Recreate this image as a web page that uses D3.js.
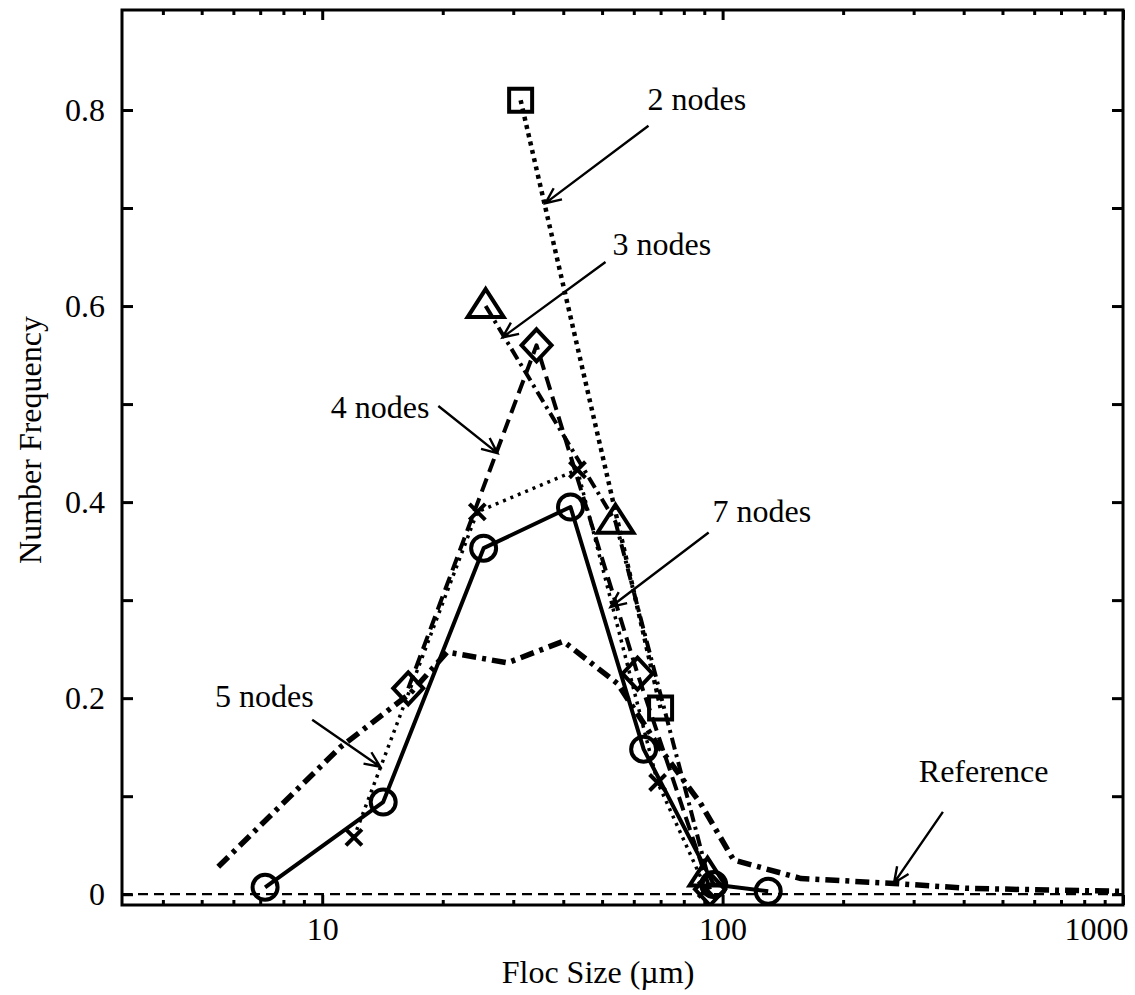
<!DOCTYPE html>
<html>
<head>
<meta charset="utf-8">
<script src="https://cdn.jsdelivr.net/npm/d3@7"></script>
<style>
  body { margin: 0; background: #fff; }
  text { font-family: "Liberation Serif", "Times New Roman", serif; fill: #000; }
</style>
</head>
<body>
<svg id="chart" width="1135" height="995"></svg>
<script>
// Floc size (µm) and number frequency for each quadrature resolution
const sizes2 = [31.3, 70];
const freq2  = [0.81, 0.19];

const sizes3 = [25.6, 54, 91.7];
const freq3  = [0.60, 0.38, 0.02];

const sizes4 = [16.4, 34.3, 61.3, 93];
const freq4  = [0.21, 0.56, 0.225, 0.005];

const sizes5 = [12, 24.4, 43.4, 68.8, 91];
const freq5  = [0.058, 0.39, 0.433, 0.114, 0.005];

const sizes7 = [7.2, 14.2, 25.3, 41.7, 63.5, 95, 130];
const freq7  = [0.007, 0.094, 0.353, 0.395, 0.148, 0.01, 0.003];

// Measured reference distribution
const sizesRef = [5.5, 11.1, 16.6, 20.5, 29, 40, 54.6, 70, 88, 106.5, 157, 268, 410, 700, 1000];
const freqRef  = [0.028, 0.15, 0.205, 0.247, 0.236, 0.258, 0.215, 0.148, 0.093, 0.035, 0.016, 0.011, 0.006, 0.004, 0.003];

// Axis ticks
const xMajorTicks = [10, 100, 1000];
const yMajorTicks = [0, 0.2, 0.4, 0.6, 0.8];
const yMinorTicks = [0.1, 0.3, 0.5, 0.7];

// Callouts: label, label anchor (size, freq), arrow tail, arrow head
const calloutText  = ["2 nodes", "3 nodes", "4 nodes", "5 nodes", "7 nodes", "Reference"];
const calloutAt    = [[64.9, 0.800], [53.1, 0.652], [10.5, 0.486], [5.4, 0.191], [94.4, 0.380], [309, 0.114]];
const calloutFrom  = [[65.3, 0.784], [51.0, 0.645], [19.5, 0.498], [9.44, 0.178], [92.3, 0.369], [355, 0.084]];
const calloutTo    = [[36.1, 0.705], [28.2, 0.568], [27.4, 0.450], [13.96, 0.130], [52.5, 0.293], [268, 0.0115]];

const FONT = 32;
const svg = d3.select("#chart");
const mLeft = 122, mRight = 1123, mTop = 10, mBottom = 905;

const x = d3.scaleLog().domain([3.162, 1000]).range([mLeft, mRight]);
const y = d3.scaleLinear().domain([-0.011, 0.902]).range([mBottom, mTop]);

svg.append("defs").append("clipPath").attr("id", "plotClip")
  .append("rect").attr("x", mLeft).attr("y", mTop).attr("width", mRight - mLeft).attr("height", mBottom - mTop);

const plot = svg.append("g").attr("clip-path", "url(#plotClip)");

const line = d3.line().x(d => x(d[0])).y(d => y(d[1]));
const zip = (a, b) => a.map((v, i) => [v, b[i]]);

// zero baseline
plot.append("path")
  .attr("d", line([[3.162, 0], [1000, 0]]))
  .attr("fill", "none").attr("stroke", "#000").attr("stroke-width", 2.2)
  .attr("stroke-dasharray", "10,6");

const series = [
  { pts: zip(sizesRef, freqRef), w: 5.5, dash: "14,6,4,6", marker: null },
  { pts: zip(sizes2, freq2),     w: 4.5, dash: "4,4.5",    marker: "square" },
  { pts: zip(sizes3, freq3),     w: 4,   dash: "12,5,3,5", marker: "triangle" },
  { pts: zip(sizes4, freq4),     w: 4,   dash: "14,7",     marker: "diamond" },
  { pts: zip(sizes5, freq5),     w: 3.5, dash: "3,5",      marker: "cross" },
  { pts: zip(sizes7, freq7),     w: 4,   dash: null,       marker: "circle" }
];

series.forEach(s => {
  const p = plot.append("path")
    .attr("d", line(s.pts))
    .attr("fill", "none").attr("stroke", "#000")
    .attr("stroke-width", s.w).attr("stroke-linejoin", "round");
  if (s.dash) p.attr("stroke-dasharray", s.dash);
});

const markerPath = {
  circle:   "M12.5,0A12.5,12.5 0 1,1 -12.5,0A12.5,12.5 0 1,1 12.5,0Z",
  square:   "M-11.5,-11.5H11.5V11.5H-11.5Z",
  triangle: "M0,-17L18,11H-18Z",
  diamond:  "M0,-16L15,0L0,16L-15,0Z",
  cross:    "M-8,-8L8,8M-8,8L8,-8"
};

series.forEach(s => {
  if (!s.marker) return;
  plot.selectAll(null).data(s.pts).enter().append("path")
    .attr("transform", d => `translate(${x(d[0])},${y(d[1])})`)
    .attr("d", markerPath[s.marker])
    .attr("fill", "none").attr("stroke", "#000")
    .attr("stroke-width", 4);
});

// axes (ticks point inward)
const fmtY = d => d === 0 ? "0" : d3.format(".1f")(d);
const axes = svg.append("g");

const bottomAxis = axes.append("g").attr("transform", `translate(0,${mBottom})`)
  .call(d3.axisBottom(x).tickValues(xMajorTicks).tickSize(-10).tickPadding(12).tickFormat(d3.format("d")));
bottomAxis.selectAll("text").filter(d => d === 1000).attr("text-anchor", "end").attr("dx", 5);

const minorX = [];
[1, 10, 100].forEach(dec => { for (let k = 2; k <= 9; k++) { const v = k * dec; if (v >= 3.162 && v <= 1000) minorX.push(v); } });

axes.append("g").attr("transform", `translate(0,${mBottom})`)
  .call(d3.axisBottom(x).tickValues(minorX).tickSize(-5).tickFormat(""));
axes.append("g").attr("transform", `translate(0,${mTop})`)
  .call(d3.axisTop(x).tickValues(xMajorTicks).tickSize(-10).tickFormat(""));
axes.append("g").attr("transform", `translate(0,${mTop})`)
  .call(d3.axisTop(x).tickValues(minorX).tickSize(-5).tickFormat(""));

axes.append("g").attr("transform", `translate(${mLeft},0)`)
  .call(d3.axisLeft(y).tickValues(yMajorTicks).tickSize(-11).tickPadding(17).tickFormat(fmtY));
axes.append("g").attr("transform", `translate(${mLeft},0)`)
  .call(d3.axisLeft(y).tickValues(yMinorTicks).tickSize(-11).tickFormat(""));
axes.append("g").attr("transform", `translate(${mRight},0)`)
  .call(d3.axisRight(y).tickValues(yMajorTicks.concat(yMinorTicks)).tickSize(-11).tickFormat(""));

axes.selectAll(".domain").remove();
axes.selectAll(".tick line").attr("stroke", "#000").attr("stroke-width", 3);
axes.selectAll(".tick text")
  .attr("font-family", "Liberation Serif, Times New Roman, serif")
  .attr("font-size", FONT).attr("fill", "#000");

// frame
svg.append("rect").attr("x", mLeft).attr("y", mTop).attr("width", mRight - mLeft).attr("height", mBottom - mTop)
  .attr("fill", "none").attr("stroke", "#000").attr("stroke-width", 3);

// axis titles
svg.append("text").attr("x", 598).attr("y", 983)
  .attr("text-anchor", "middle").attr("font-size", FONT).text("Floc Size (µm)");
svg.append("text").attr("transform", "translate(41,440) rotate(-90)")
  .attr("text-anchor", "middle").attr("font-size", FONT).text("Number Frequency");

// callouts with open arrowheads
const notes = svg.append("g");
calloutText.forEach((t, i) => {
  notes.append("text").attr("x", x(calloutAt[i][0])).attr("y", y(calloutAt[i][1]))
    .attr("font-size", FONT).text(t);
  const x0 = x(calloutFrom[i][0]), y0 = y(calloutFrom[i][1]);
  const x1 = x(calloutTo[i][0]),   y1 = y(calloutTo[i][1]);
  const ang = Math.atan2(y1 - y0, x1 - x0), len = 17, spread = 0.42;
  const hx1 = x1 - len * Math.cos(ang - spread), hy1 = y1 - len * Math.sin(ang - spread);
  const hx2 = x1 - len * Math.cos(ang + spread), hy2 = y1 - len * Math.sin(ang + spread);
  notes.append("path")
    .attr("d", `M${x0},${y0}L${x1},${y1}M${hx1},${hy1}L${x1},${y1}L${hx2},${hy2}`)
    .attr("fill", "none").attr("stroke", "#000").attr("stroke-width", 2.4);
});
</script>
</body>
</html>
